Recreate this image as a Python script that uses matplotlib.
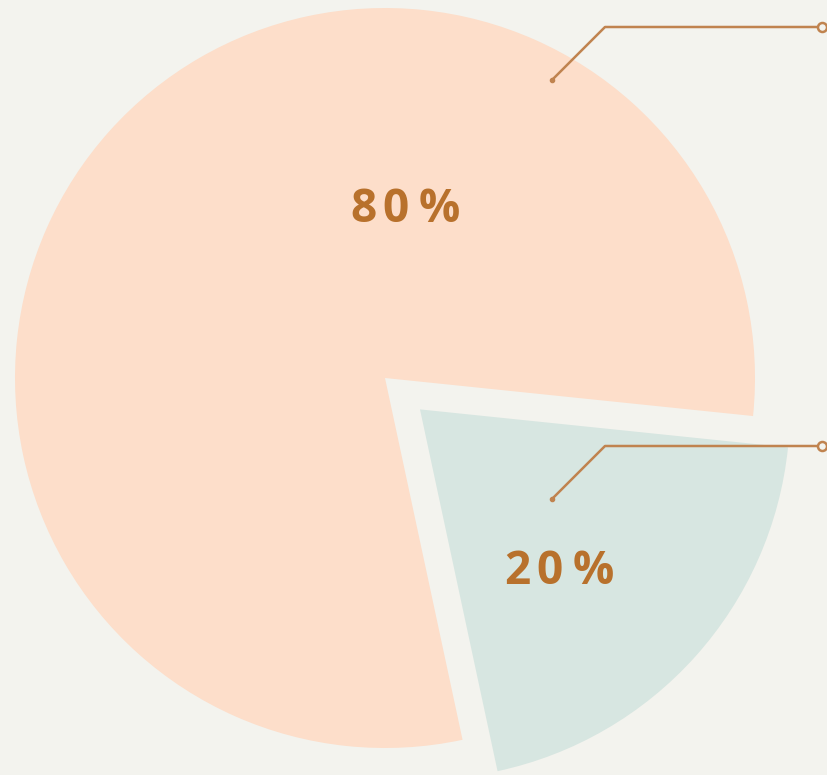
import matplotlib.pyplot as plt

labels = ['80%', '20%']
values = [80, 20]
colors = ['#fddeca', '#d7e6e1']

bg = '#f3f3ee'
accent = '#b8712c'
line_col = '#c0834f'

fig = plt.figure(figsize=(8.27, 7.75), dpi=100, facecolor=bg)
ax = fig.add_axes([0, 0, 1, 1])
ax.set_facecolor(bg)

# explode is in data units here (radius 370 px)
wedges, _ = ax.pie(values, colors=colors, startangle=-5.9, counterclock=True,
                   explode=[0, 47], radius=370, center=(385, 397),
                   wedgeprops=dict(linewidth=0), frame=True)
ax.set_xlim(0, 827)
ax.set_ylim(0, 775)
ax.axis('off')

# labels, drawn char by char for letter spacing
label_pos = [(403, 775 - 210), (557, 775 - 571)]
char_dx = [-40, -7, 36]
for lab, (x, y) in zip(labels, label_pos):
    for ch, dx in zip(lab, char_dx):
        ax.text(x + dx, y, ch, ha='center', va='center',
                fontsize=33, fontweight='bold', color=accent, family='Open Sans')

# leader lines
for y0 in [775 - 80, 775 - 499]:
    xs = [552, 605, 822]
    ys = [y0, y0 + 53, y0 + 53]
    ax.plot(xs, ys, color=line_col, lw=1.8, solid_capstyle='round')
    ax.plot(552, y0, 'o', ms=3, color=line_col)
    ax.plot(822, y0 + 53, 'o', ms=6.5, mfc=bg, mec=line_col, mew=1.8)

fig.savefig('out.png', dpi=100, facecolor=bg)
